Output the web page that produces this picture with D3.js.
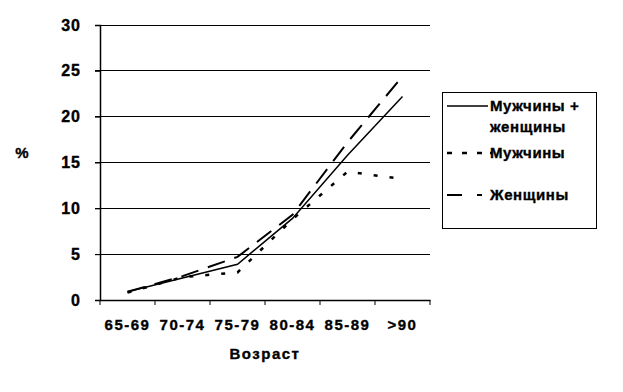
<!DOCTYPE html>
<html>
<head>
<meta charset="utf-8">
<script src="https://cdn.jsdelivr.net/npm/d3@7"></script>
<style>
  body { margin: 0; background: #fff; }
  text { font-family: "Liberation Sans", Arial, sans-serif; font-weight: bold; fill: #000; stroke: #000; stroke-width: 0.35px; }
</style>
</head>
<body>
<svg width="623" height="392"></svg>
<script>
// Age groups and prevalence, %
const ageGroups = ["65-69", "70-74", "75-79", "80-84", "85-89", ">90"];
const both = [0.9, 2.4, 3.9, 8.9, 15.8, 22.2];
const men = [0.8, 2.5, 3.0, 8.8, 14.0, 13.2];
const women = [0.9, 2.6, 4.7, 9.3, 17.2, 24.4];
const yTicks = [0, 5, 10, 15, 20, 25, 30];

const series = [
  { name: "Мужчины + женщины", values: both, dash: null, legendDash: null, width: 1.5, ly: 106, lx2: 488, lines: ["Мужчины +", "женщины"] },
  { name: "Мужчины", values: men, dash: "4,12", legendDash: "5,10,5,10,5,8,2,10", width: 2.5, ly: 153, lx2: 492, lines: ["Мужчины"] },
  { name: "Женщины", values: women, dash: "18,10", legendDash: "15,15", width: 2, ly: 195, lx2: 482, lines: ["Женщины"] }
];

const svg = d3.select("svg");
const margin = { left: 100, right: 430, top: 25, bottom: 300 };

const x = d3.scaleBand().domain(ageGroups).range([margin.left, margin.right]);
const y = d3.scaleLinear().domain([0, 30]).range([margin.bottom, margin.top]);

// horizontal gridlines
svg.selectAll(".grid")
  .data(yTicks.slice(1))
  .enter().append("line")
  .attr("x1", margin.left - 5).attr("x2", margin.right)
  .attr("y1", d => y(d)).attr("y2", d => y(d))
  .attr("stroke", "#000").attr("stroke-width", 1)
  .attr("shape-rendering", "crispEdges");

// y axis
const yAxis = svg.append("g")
  .attr("transform", `translate(${margin.left},0)`)
  .call(d3.axisLeft(y).tickValues(yTicks).tickSize(5).tickPadding(14));
yAxis.selectAll("text").style("font-size", "16px").style("letter-spacing", "1px");

// x axis
const xAxis = svg.append("g")
  .attr("transform", `translate(0,${margin.bottom})`)
  .call(d3.axisBottom(x).tickSize(0).tickPadding(20));
xAxis.selectAll(".tick").remove();
xAxis.selectAll(".xtick")
  .data(ageGroups.concat([null]))
  .enter().append("line")
  .attr("x1", (d, i) => margin.left + i * x.bandwidth())
  .attr("x2", (d, i) => margin.left + i * x.bandwidth())
  .attr("y1", 0).attr("y2", 5).attr("stroke", "#000");
xAxis.selectAll(".xlabel")
  .data(ageGroups)
  .enter().append("text")
  .attr("x", d => x(d) + x.bandwidth() / 2)
  .attr("y", 30)
  .attr("text-anchor", "middle")
  .style("font-size", "15px")
  .style("letter-spacing", "1.5px")
  .text(d => d);

svg.selectAll(".domain").attr("stroke", "#000").attr("stroke-width", 1.5);
svg.selectAll(".tick line").attr("stroke", "#000");

// axis titles
svg.append("text").attr("x", 265).attr("y", 359)
  .attr("text-anchor", "middle").style("font-size", "15px")
  .style("letter-spacing", "1.5px").text("Возраст");
svg.append("text").attr("x", 22).attr("y", 158)
  .attr("text-anchor", "middle").style("font-size", "15px").text("%");

// lines
const line = d3.line()
  .x((d, i) => x(ageGroups[i]) + x.bandwidth() / 2)
  .y(d => y(d));

svg.selectAll(".series")
  .data(series)
  .enter().append("path")
  .attr("d", d => line(d.values))
  .attr("fill", "none")
  .attr("stroke", "#000")
  .attr("stroke-width", d => d.width)
  .attr("stroke-dasharray", d => d.dash);

// legend
const legend = svg.append("g");
legend.append("rect")
  .attr("x", 442.5).attr("y", 92.5).attr("width", 154).attr("height", 136)
  .attr("fill", "#fff").attr("stroke", "#000").attr("stroke-width", 1);

series.forEach(s => {
  legend.append("line")
    .attr("x1", 447).attr("x2", s.lx2)
    .attr("y1", s.ly).attr("y2", s.ly)
    .attr("stroke", "#000").attr("stroke-width", s.width)
    .attr("stroke-dasharray", s.legendDash);
  s.lines.forEach((t, i) => {
    legend.append("text")
      .attr("x", 490).attr("y", s.ly + 5 + i * 21)
      .style("font-size", "15px")
      .style("letter-spacing", "0.6px")
      .text(t);
  });
});
</script>
</body>
</html>
